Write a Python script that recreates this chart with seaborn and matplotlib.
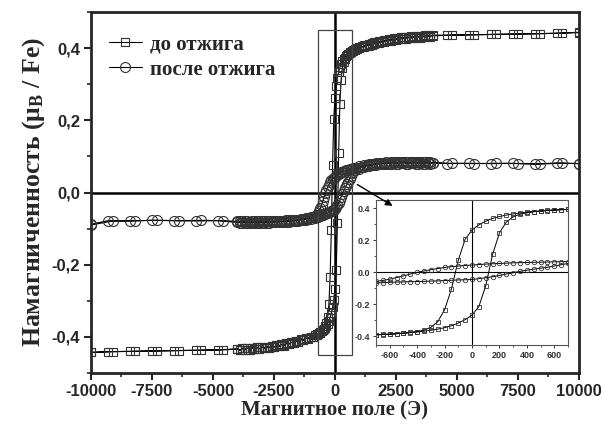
import numpy as np
import pandas as pd
import matplotlib
matplotlib.use("Agg")
import matplotlib.pyplot as plt
import seaborn as sns
from matplotlib.patches import Rectangle
from matplotlib.ticker import MultipleLocator

# ---------------- data ----------------
field_desc = [10000, 9100, 8200, 7300, 6400, 5500, 4600,
              4000, 3900, 3800, 3700, 3600, 3500, 3400, 3300, 3200, 3100, 3000, 2900, 2800, 2700, 2600, 2500, 2400,
              2300, 2200, 2100, 2000, 1900, 1800, 1700, 1600, 1500, 1400, 1300, 1200, 1100, 1000, 900, 800,
              750, 700, 650, 600, 550, 500, 450, 400, 350, 300, 250, 200, 150, 100, 50, 0,
              -50, -100, -150, -200, -250, -300, -350, -400, -450, -500, -550, -600, -650, -700, -750,
              -800, -900, -1000, -1100, -1200, -1300, -1400, -1500, -1600, -1700, -1800, -1900, -2000, -2100, -2200, -2300,
              -2400, -2500, -2600, -2700, -2800, -2900, -3000, -3100, -3200, -3300, -3400, -3500, -3600, -3700, -3800, -3900, -4000,
              -4600, -5500, -6400, -7300, -8200, -9100, -10000]
field_asc = [-10000, -9300, -8400, -7500, -6600, -5700, -4800,
             -4000, -3900, -3800, -3700, -3600, -3500, -3400, -3300, -3200, -3100, -3000, -2900, -2800, -2700, -2600, -2500, -2400,
             -2300, -2200, -2100, -2000, -1900, -1800, -1700, -1600, -1500, -1400, -1300, -1200, -1100, -1000, -900, -800,
             -750, -700, -650, -600, -550, -500, -450, -400, -350, -300, -250, -200, -150, -100, -50, 0,
             50, 100, 150, 200, 250, 300, 350, 400, 450, 500, 550, 600, 650, 700, 750,
             800, 900, 1000, 1100, 1200, 1300, 1400, 1500, 1600, 1700, 1800, 1900, 2000, 2100, 2200, 2300,
             2400, 2500, 2600, 2700, 2800, 2900, 3000, 3100, 3200, 3300, 3400, 3500, 3600, 3700, 3800, 3900, 4000,
             4800, 5700, 6600, 7500, 8400, 9300, 10000]

# до отжига (squares)
before_desc = [0.443, 0.441, 0.440, 0.439, 0.438, 0.437, 0.436,
               0.436, 0.431, 0.435, 0.430, 0.434, 0.429, 0.433, 0.428, 0.432, 0.427, 0.431, 0.426, 0.430, 0.425, 0.428, 0.423,
               0.427, 0.421, 0.425, 0.419, 0.422, 0.416, 0.419, 0.413, 0.416, 0.410, 0.412, 0.406, 0.408, 0.402, 0.403, 0.397, 0.397,
               0.393, 0.391, 0.389, 0.387, 0.384, 0.381, 0.378, 0.374, 0.369, 0.363, 0.356, 0.347, 0.335, 0.318, 0.295, 0.263,
               0.205, 0.075, -0.105, -0.235, -0.310, -0.345, -0.362, -0.371, -0.377, -0.381, -0.385, -0.388, -0.390, -0.392, -0.394,
               -0.396, -0.400, -0.399, -0.405, -0.404, -0.410, -0.408, -0.414, -0.412, -0.418, -0.415, -0.421, -0.418, -0.424, -0.421, -0.426,
               -0.423, -0.428, -0.425, -0.430, -0.427, -0.432, -0.428, -0.433, -0.429, -0.434, -0.430, -0.435, -0.431, -0.436, -0.432, -0.437, -0.434,
               -0.436, -0.437, -0.438, -0.439, -0.440, -0.441, -0.443]
before_asc = [-0.443, -0.441, -0.440, -0.439, -0.438, -0.437, -0.436,
              -0.433, -0.437, -0.432, -0.436, -0.431, -0.435, -0.430, -0.434, -0.429, -0.433, -0.428, -0.432, -0.427, -0.430, -0.425, -0.428,
              -0.423, -0.426, -0.421, -0.423, -0.418, -0.420, -0.415, -0.417, -0.411, -0.413, -0.407, -0.408, -0.403, -0.404, -0.399, -0.399, -0.395,
              -0.393, -0.391, -0.389, -0.387, -0.384, -0.381, -0.378, -0.374, -0.369, -0.363, -0.356, -0.347, -0.335, -0.318, -0.297, -0.268,
              -0.215, -0.085, 0.110, 0.245, 0.312, 0.345, 0.361, 0.370, 0.377, 0.381, 0.385, 0.388, 0.390, 0.392, 0.394,
              0.396, 0.401, 0.399, 0.405, 0.403, 0.409, 0.407, 0.413, 0.411, 0.417, 0.414, 0.420, 0.417, 0.423, 0.420, 0.426,
              0.422, 0.428, 0.424, 0.430, 0.426, 0.431, 0.428, 0.433, 0.429, 0.434, 0.430, 0.435, 0.431, 0.436, 0.432, 0.437, 0.434,
              0.436, 0.437, 0.438, 0.439, 0.440, 0.442, 0.444]

# после отжига (circles)
after_desc = [0.080, 0.082, 0.079, 0.081, 0.080, 0.081, 0.080,
              0.083, 0.079, 0.084, 0.080, 0.085, 0.081, 0.084, 0.080, 0.085, 0.081, 0.084, 0.080, 0.085, 0.081, 0.084, 0.079,
              0.084, 0.080, 0.083, 0.079, 0.083, 0.078, 0.082, 0.077, 0.080, 0.076, 0.078, 0.074, 0.076, 0.072, 0.073, 0.069, 0.069,
              0.067, 0.066, 0.065, 0.064, 0.063, 0.062, 0.061, 0.060, 0.059, 0.058, 0.056, 0.054, 0.052, 0.050, 0.047, 0.044,
              0.041, 0.038, 0.034, 0.029, 0.022, 0.015, 0.007, -0.002, -0.012, -0.024, -0.034, -0.044, -0.052, -0.058, -0.062,
              -0.065, -0.069, -0.068, -0.073, -0.071, -0.076, -0.073, -0.078, -0.075, -0.080, -0.076, -0.081, -0.077, -0.082, -0.078, -0.083,
              -0.078, -0.083, -0.079, -0.084, -0.079, -0.084, -0.080, -0.085, -0.080, -0.084, -0.079, -0.085, -0.080, -0.084, -0.079, -0.084, -0.080,
              -0.078, -0.077, -0.078, -0.077, -0.078, -0.079, -0.090]
after_asc = [-0.088, -0.078, -0.079, -0.077, -0.078, -0.079, -0.078,
             -0.083, -0.079, -0.084, -0.080, -0.085, -0.081, -0.084, -0.080, -0.085, -0.080, -0.084, -0.079, -0.084, -0.080, -0.083, -0.079,
             -0.083, -0.078, -0.082, -0.078, -0.081, -0.077, -0.080, -0.076, -0.079, -0.075, -0.077, -0.073, -0.075, -0.071, -0.073, -0.069, -0.070,
             -0.068, -0.067, -0.066, -0.064, -0.062, -0.061, -0.060, -0.059, -0.058, -0.056, -0.055, -0.053, -0.051, -0.049, -0.048, -0.046,
             -0.041, -0.035, -0.029, -0.021, -0.012, -0.004, 0.005, 0.012, 0.018, 0.024, 0.030, 0.038, 0.046, 0.054, 0.058,
             0.062, 0.067, 0.066, 0.071, 0.070, 0.075, 0.073, 0.078, 0.076, 0.081, 0.078, 0.083, 0.079, 0.084, 0.080, 0.085,
             0.081, 0.085, 0.080, 0.084, 0.081, 0.085, 0.080, 0.084, 0.081, 0.085, 0.080, 0.084, 0.080, 0.085, 0.081, 0.084, 0.082,
             0.081, 0.080, 0.081, 0.080, 0.079, 0.081, 0.080]

series_labels = ["до отжига", "после отжига"]
x_ticks = [-10000, -7500, -5000, -2500, 0, 2500, 5000, 7500, 10000]
y_ticks = [-0.4, -0.2, 0.0, 0.2, 0.4]
y_tick_labels = ["-0,4", "-0,2", "0,0", "0,2", "0,4"]
inset_x_ticks = [-600, -400, -200, 0, 200, 400, 600]
inset_y_ticks = [-0.4, -0.2, 0.0, 0.2, 0.4]
inset_y_tick_labels = ["-0.4", "-0.2", "0.0", "0.2", "0.4"]

# ---------------- style ----------------
sns.set_theme(style="ticks")
plt.rcParams["font.family"] = ["Liberation Sans", "DejaVu Sans"]
plt.rcParams["mathtext.fontset"] = "custom"
plt.rcParams["mathtext.rm"] = "Liberation Serif:bold"
plt.rcParams["mathtext.bf"] = "Liberation Serif:bold"
plt.rcParams["mathtext.it"] = "Liberation Serif:bold"

df_before = pd.DataFrame({"H": field_desc + field_asc, "M": before_desc + before_asc})
df_after = pd.DataFrame({"H": field_desc + field_asc, "M": after_desc + after_asc})

fig = plt.figure(figsize=(6.05, 4.30), dpi=100)
ax = fig.add_axes([0.1504, 0.1326, 0.8066, 0.8394])

sns.lineplot(data=df_before, x="H", y="M", sort=False, estimator=None, ax=ax,
             color="black", lw=0.8, marker="s", markersize=6.3, mfc="none", mec="#333333",
             mew=0.8, label=series_labels[0])
sns.lineplot(data=df_after, x="H", y="M", sort=False, estimator=None, ax=ax,
             color="black", lw=0.8, marker="o", markersize=7.2, mfc="none", mec="#333333",
             mew=0.8, label=series_labels[1])

ax.axhline(0, color="black", lw=1.8, zorder=1)
ax.axvline(0, color="black", lw=1.8, zorder=1)
ax.add_patch(Rectangle((-700, -0.45), 1400, 0.9, fill=False, ec="#444444", lw=0.9, zorder=3))

ax.set_xlim(-10000, 10000)
ax.set_ylim(-0.5, 0.5)
ax.set_xticks(x_ticks)
ax.set_xticklabels([str(t) for t in x_ticks])
ax.set_yticks(y_ticks)
ax.set_yticklabels(y_tick_labels)
ax.xaxis.set_minor_locator(MultipleLocator(1250))
ax.yaxis.set_minor_locator(MultipleLocator(0.1))
ax.tick_params(which="major", direction="out", length=5, width=1.5, labelsize=12, pad=3)
ax.tick_params(which="minor", direction="out", length=3, width=1.2)
for lab in ax.get_xticklabels() + ax.get_yticklabels():
    lab.set_fontweight("bold")
for sp in ax.spines.values():
    sp.set_linewidth(2)
    sp.set_visible(True)

ax.set_xlabel("Магнитное поле (Э)", fontsize=15, fontweight="bold",
              family=["Liberation Serif"], labelpad=1)
ax.set_ylabel("Намагниченность (μ$_\\mathrm{B}$ / Fe)", fontsize=18.5, fontweight="bold",
              family=["Liberation Serif"], labelpad=3)

leg = ax.legend(loc="upper left", bbox_to_anchor=(-0.002, 0.99), frameon=False,
                prop={"family": "Liberation Serif", "weight": "bold", "size": 15},
                handlelength=1.6, handletextpad=0.4, labelspacing=0.25)

# ---------------- inset ----------------
ins = fig.add_axes([0.6215, 0.1977, 0.3174, 0.3372])
sns.lineplot(data=df_before, x="H", y="M", sort=False, estimator=None, ax=ins,
             color="black", lw=0.7, marker="s", markersize=3.0, mfc="none", mec="#333333",
             mew=0.6, legend=False)
sns.lineplot(data=df_after, x="H", y="M", sort=False, estimator=None, ax=ins,
             color="black", lw=0.7, marker="o", markersize=3.2, mfc="none", mec="#333333",
             mew=0.6, legend=False)
ins.axhline(0, color="black", lw=0.8, zorder=1)
ins.axvline(0, color="black", lw=0.8, zorder=1)
ins.set_xlim(-700, 700)
ins.set_ylim(-0.455, 0.45)
ins.set_xticks(inset_x_ticks)
ins.set_xticklabels([str(t) for t in inset_x_ticks])
ins.set_yticks(inset_y_ticks)
ins.set_yticklabels(inset_y_tick_labels)
ins.xaxis.set_minor_locator(MultipleLocator(100))
ins.yaxis.set_minor_locator(MultipleLocator(0.1))
ins.tick_params(which="major", direction="out", length=2.5, width=0.7, labelsize=6.5,
                pad=1.5, colors="#333333")
ins.tick_params(which="minor", direction="out", length=1.5, width=0.6, colors="#333333")
for lab in ins.get_xticklabels() + ins.get_yticklabels():
    lab.set_fontweight("bold")
for sp in ins.spines.values():
    sp.set_linewidth(0.8)
    sp.set_color("#555555")
    sp.set_visible(True)
ins.set_xlabel("")
ins.set_ylabel("")

ins.annotate("", xy=(2459, -0.041), xycoords=ax.transData,
             xytext=(820, 0.026), textcoords=ax.transData,
             arrowprops=dict(arrowstyle="-|>", color="black", lw=1.0, mutation_scale=10),
             annotation_clip=False)

fig.savefig("out.png", dpi=100)
